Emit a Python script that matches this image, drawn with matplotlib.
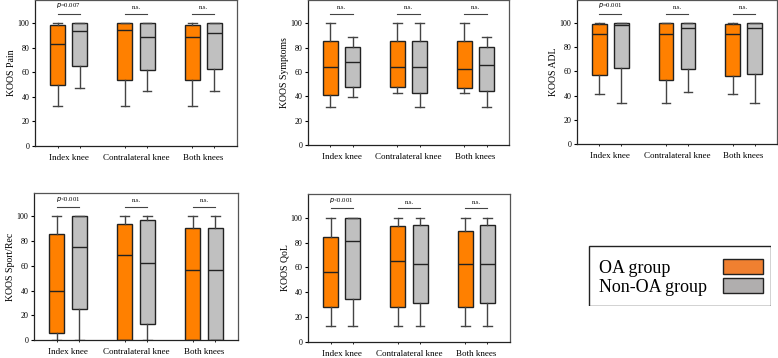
import matplotlib
matplotlib.use("Agg")
import matplotlib.pyplot as plt
from matplotlib.patches import Rectangle

plt.rcParams['font.family'] = ['Liberation Serif', 'DejaVu Serif']

knees = ['Index knee', 'Contralateral knee', 'Both knees']

# each entry: (whislo, q1, median, q3, whishi) for [OA, Non-OA] per knee
pain_oa = [(33, 50, 83, 99, 100), (33, 54, 94.5, 100, 100), (33, 54, 89, 99, 100)]
pain_non = [(47, 65, 94, 100, 100), (44.5, 62, 89, 100, 100), (44.5, 62.5, 92, 100, 100)]
sym_oa = [(31.5, 41, 64, 85.5, 100), (43, 48, 64, 85.5, 100), (43, 46.5, 62.5, 85.5, 100)]
sym_non = [(39, 48, 68, 80.5, 89), (31.5, 42.5, 64, 85.5, 100), (31.5, 44.5, 66, 80.5, 89)]
adl_oa = [(41, 57, 91, 99, 100), (34, 53, 91, 100, 100), (41, 56, 91, 99, 100)]
adl_non = [(34, 62.5, 98, 100, 100), (43, 62, 96, 100, 100), (34, 57.5, 96, 100, 100)]
sport_oa = [(0, 6, 39.5, 86, 100), (0, 0, 69, 94, 100), (0, 0, 56.5, 91, 100)]
sport_non = [(0, 25, 75, 100, 100), (0, 13, 62.5, 97, 100), (0, 0, 56.5, 91, 100)]
qol_oa = [(12.5, 28, 56, 84.5, 100), (12.5, 28, 65.5, 93, 100), (12.5, 28, 62.5, 89, 100)]
qol_non = [(12.5, 34.5, 81, 100, 100), (12.5, 31, 62.5, 94, 100), (12.5, 31, 62.5, 94, 100)]

pain_p = ['p=0.007', 'n.s.', 'n.s.']
sym_p = ['n.s.', 'n.s.', 'n.s.']
adl_p = ['p=0.001', 'n.s.', 'n.s.']
sport_p = ['p<0.001', 'n.s.', 'n.s.']
qol_p = ['p<0.001', 'n.s.', 'n.s.']

groups = ['OA group', 'Non-OA group']

oa_col = '#ff8000'
non_col = '#c0c0c0'

fig = plt.figure(figsize=(7.78, 3.58), dpi=100)

panels = [
    ('KOOS Pain', pain_oa, pain_non, pain_p, [35, 0, 202, 146]),
    ('KOOS Symptoms', sym_oa, sym_non, sym_p, [308, 0, 201, 145]),
    ('KOOS ADL', adl_oa, adl_non, adl_p, [577, 0, 200, 144]),
    ('KOOS Sport/Rec', sport_oa, sport_non, sport_p, [34, 193, 204, 147]),
    ('KOOS QoL', qol_oa, qol_non, qol_p, [308, 194, 202, 148]),
]


def to_stats(vals):
    lo, q1, med, q3, hi = vals
    return dict(whislo=lo, q1=q1, med=med, q3=q3, whishi=hi, fliers=[])


for name, oa, non, ptxt, (px, py, pw, ph) in panels:
    ax = fig.add_axes([px / 778, 1 - (py + ph) / 358, pw / 778, ph / 358])
    centers = [0.5, 1.5, 2.5]
    off = 0.165
    for vals, sign, col in [(oa, -1, oa_col), (non, 1, non_col)]:
        pos = [c + sign * off for c in centers]
        ax.bxp([to_stats(v) for v in vals], positions=pos, widths=0.22,
               patch_artist=True, showfliers=False, manage_ticks=False,
               boxprops=dict(facecolor=col, edgecolor='#222222', linewidth=1.0),
               medianprops=dict(color='#222222', linewidth=1.0),
               whiskerprops=dict(color='#444444', linewidth=1.0),
               capprops=dict(color='#444444', linewidth=1.0), capwidths=0.13)
    for c, t in zip(centers, ptxt):
        ax.plot([c - off, c + off], [107.5, 107.5], color='#444444', lw=0.8)
        if t.startswith('p'):
            t = r'$\it{p}$' + t[1:]
        ax.text(c, 110.5, t, ha='center', va='bottom', fontsize=4.8)
    ax.set_xlim(0, 3)
    ax.set_ylim(0, 119)
    ax.set_yticks(range(0, 101, 20))
    ax.tick_params(axis='y', labelsize=5.8, length=2, pad=2)
    ax.set_xticks(centers)
    ax.set_xticklabels(knees, fontsize=6.5)
    ax.tick_params(axis='x', length=0, pad=5.5)
    ax.set_xticks([c + s * off for c in centers for s in (-1, 1)], minor=True)
    ax.tick_params(axis='x', which='minor', length=1.5)
    ax.set_ylabel(name, fontsize=7, labelpad=1)
    for sp in ax.spines.values():
        sp.set_color('#555555')
        sp.set_linewidth(0.9)
    ax.spines['left'].set_color('#222222')
    ax.spines['bottom'].set_color('#222222')

# legend box drawn in its own axes (pixel-like units)
lax = fig.add_axes([588 / 778, 1 - 306 / 358, 183 / 778, 61 / 358])
lax.set_xlim(0, 183)
lax.set_ylim(61, 0)
lax.axis('off')
lax.add_patch(Rectangle((0.5, 0.5), 182, 60, fill=False, edgecolor='#222222', lw=1.0))
for i, (g, col) in enumerate(zip(groups, ['#f08030', '#b0aeae'])):
    y0 = 14 + i * 19
    lax.add_patch(Rectangle((135, y0), 40, 14.5, facecolor=col, edgecolor='#222222', lw=1.0))
    lax.text(11, y0 + 14, g, fontsize=13, ha='left', va='baseline')

fig.savefig('out.png', dpi=100)
